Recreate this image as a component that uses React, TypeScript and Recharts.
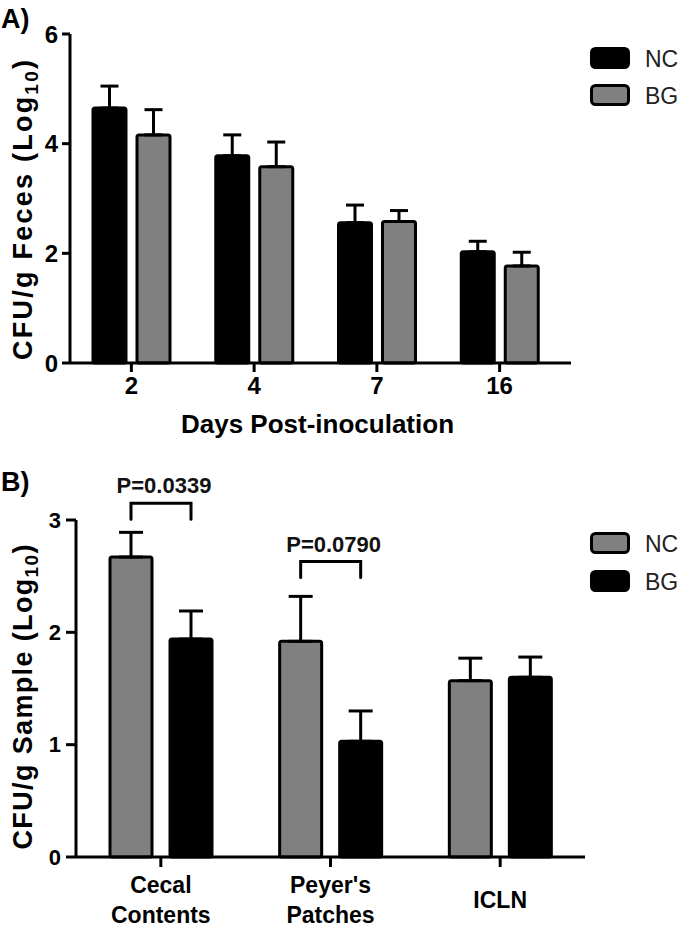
import React from 'react';
import { BarChart, Bar, XAxis, YAxis, ErrorBar, Legend, LabelList } from 'recharts';

const FONT = '"Liberation Sans", Arial, Helvetica, sans-serif';

// Panel A: fecal shedding by day
const dayLabels = ['2', '4', '7', '16'];
const fecesNC = [4.65, 3.78, 2.56, 2.03];
const fecesNCErr = [0.4, 0.38, 0.32, 0.19];
const fecesBG = [4.16, 3.58, 2.58, 1.77];
const fecesBGErr = [0.46, 0.45, 0.2, 0.25];
const fecesTicks = [0, 2, 4, 6];

// Panel B: tissues
const tissueLabels = ['Cecal\nContents', "Peyer's\nPatches", 'ICLN'];
const tissueNC = [2.67, 1.92, 1.57];
const tissueNCErr = [0.22, 0.4, 0.2];
const tissueBG = [1.94, 1.03, 1.6];
const tissueBGErr = [0.25, 0.27, 0.18];
const tissueTicks = [0, 1, 2, 3];
const pLabels = ['P=0.0339', 'P=0.0790', null];
const bracketLevels = [3.15, 2.63, null];

const seriesOrder = ['NC', 'BG'];

const GRAY = '#808080';
const BLACK = '#000';

const fecesData = dayLabels.map((day, i) => ({
  day,
  NC: fecesNC[i],
  ncErr: [0, fecesNCErr[i]],
  BG: fecesBG[i],
  bgErr: [0, fecesBGErr[i]],
}));

const tissueData = tissueLabels.map((name, i) => ({
  name,
  NC: tissueNC[i],
  ncErr: [0, tissueNCErr[i]],
  BG: tissueBG[i],
  bgErr: [0, tissueBGErr[i]],
}));

const axisStroke = { stroke: BLACK, strokeWidth: 3 };

function LegendBoxes({ payload, gap }: any) {
  const items = [...(payload || [])].sort(
    (a: any, b: any) => seriesOrder.indexOf(a.value) - seriesOrder.indexOf(b.value)
  );
  return (
    <svg width={90} height={gap * items.length + 4} style={{ display: 'block' }}>
      {items.map((item: any, i: number) => (
        <g key={item.value} transform={`translate(0, ${i * gap})`}>
          <rect x={1.5} y={1.5} width={37} height={19} rx={4} fill={item.color} stroke={BLACK} strokeWidth={3} />
          <text x={55} y={19.5} fontSize={23} fill="#222" fontFamily={FONT}>
            {item.value}
          </text>
        </g>
      ))}
    </svg>
  );
}

function yTitle(letter: string, title: string, letterY: number, centerY: number, length: number) {
  return () => (
    <g fontFamily={FONT} fontWeight={700} fill={BLACK}>
      <text x={1} y={letterY} fontSize={27}>{letter}</text>
      <text
        transform={`translate(32, ${centerY}) rotate(-90)`}
        textAnchor="middle"
        fontSize={27}
        textLength={length}
        lengthAdjust="spacing"
      >
        {title}
        <tspan fontSize={19} dy={6}>10</tspan>
        <tspan dy={-6}>)</tspan>
      </text>
    </g>
  );
}

function TissueTick({ x, y, payload }: any) {
  const lines = String(payload.value).split('\n');
  const center = y + 33;
  return (
    <g>
      {lines.map((line, i) => (
        <text
          key={line}
          x={x}
          y={center - ((lines.length - 1) * 30) / 2 + i * 30 + 8}
          textAnchor="middle"
          fontSize={23}
          fontWeight={700}
          fontFamily={FONT}
          fill={BLACK}
        >
          {line}
        </text>
      ))}
    </g>
  );
}

// bracket + p-value drawn above each NC/BG pair, positioned from the bar geometry
function makeBracket(barSize: number, barGap: number) {
  return (props: any) => {
    const vb = props.viewBox || props;
    const { x, y, width, height } = vb;
    const idx = props.index;
    const level = bracketLevels[idx];
    const text = pLabels[idx];
    if (level == null || !text || !props.value) return null;
    const ppu = height / Number(props.value);
    const zero = y + height;
    const by = zero - level * ppu;
    const left = x + width / 2;
    const right = left + barSize + barGap;
    return (
      <g>
        <path
          d={`M${left},${by + 16} L${left},${by} L${right},${by} L${right},${by + 16}`}
          fill="none"
          stroke={BLACK}
          strokeWidth={3}
          strokeLinecap="round"
        />
        <text
          x={(left + right) / 2 + 3}
          y={by - 10}
          textAnchor="middle"
          fontSize={22}
          fontWeight={700}
          fontFamily={FONT}
          fill="#111"
        >
          {text}
        </text>
      </g>
    );
  };
}

function FecesChart() {
  return (
    <BarChart
      width={685}
      height={445}
      data={fecesData}
      margin={{ top: 34, right: 114, bottom: 7, left: 0 }}
      barSize={33}
      barGap={11}
    >
      <XAxis
        dataKey="day"
        height={75}
        padding={{ left: 0, right: 10 }}
        axisLine={axisStroke}
        tickLine={axisStroke}
        tickSize={9}
        tickMargin={5}
        tick={{ fill: BLACK, fontSize: 24, fontWeight: 700, fontFamily: FONT }}
        label={(p: any) => {
          const vb = p.viewBox;
          return (
            <text
              x={vb.x + vb.width / 2 - 3}
              y={433}
              textAnchor="middle"
              fontSize={26}
              fontWeight={700}
              fontFamily={FONT}
              fill={BLACK}
            >
              Days Post-inoculation
            </text>
          );
        }}
      />
      <YAxis
        width={70}
        domain={[0, 6]}
        ticks={fecesTicks}
        interval={0}
        axisLine={axisStroke}
        tickLine={axisStroke}
        tickSize={8}
        tickMargin={4}
        tick={{ fill: BLACK, fontSize: 24, fontWeight: 700, fontFamily: FONT }}
        label={yTitle('A)', 'CFU/g Feces (Log', 28, 210, 300)}
      />
      <Legend
        layout="vertical"
        align="center"
        verticalAlign="middle"
        wrapperStyle={{ left: 590, top: 47, width: 90 }}
        content={(p: any) => <LegendBoxes payload={p.payload} gap={37} />}
      />
      <Bar dataKey="NC" name="NC" fill={BLACK} stroke={BLACK} strokeWidth={3} radius={2} isAnimationActive={false}>
        <ErrorBar dataKey="ncErr" direction="y" width={9} stroke={BLACK} strokeWidth={3} />
      </Bar>
      <Bar dataKey="BG" name="BG" fill={GRAY} stroke={BLACK} strokeWidth={3} radius={2} isAnimationActive={false}>
        <ErrorBar dataKey="bgErr" direction="y" width={9} stroke={BLACK} strokeWidth={3} />
      </Bar>
    </BarChart>
  );
}

function TissueChart() {
  const barSize = 42;
  const barGap = 18;
  return (
    <BarChart
      width={685}
      height={483}
      data={tissueData}
      margin={{ top: 75, right: 100, bottom: 6, left: 0 }}
      barSize={barSize}
      barGap={barGap}
    >
      <XAxis
        dataKey="name"
        height={65}
        axisLine={axisStroke}
        tickLine={axisStroke}
        tickSize={10}
        tickMargin={0}
        interval={0}
        tick={<TissueTick />}
      />
      <YAxis
        width={76}
        domain={[0, 3]}
        ticks={tissueTicks}
        interval={0}
        axisLine={axisStroke}
        tickLine={axisStroke}
        tickSize={10}
        tickMargin={5}
        tick={{ fill: BLACK, fontSize: 22, fontWeight: 700, fontFamily: FONT }}
        label={yTitle('B)', 'CFU/g Sample (Log', 46, 252, 305)}
      />
      <Legend
        layout="vertical"
        align="center"
        verticalAlign="middle"
        wrapperStyle={{ left: 590, top: 87, width: 90 }}
        content={(p: any) => <LegendBoxes payload={p.payload} gap={38} />}
      />
      <Bar dataKey="NC" name="NC" fill={GRAY} stroke={BLACK} strokeWidth={3} radius={2} isAnimationActive={false}>
        <ErrorBar dataKey="ncErr" direction="y" width={12} stroke={BLACK} strokeWidth={3} />
        <LabelList dataKey="NC" content={makeBracket(barSize, barGap)} />
      </Bar>
      <Bar dataKey="BG" name="BG" fill={BLACK} stroke={BLACK} strokeWidth={3} radius={2} isAnimationActive={false}>
        <ErrorBar dataKey="bgErr" direction="y" width={12} stroke={BLACK} strokeWidth={3} />
      </Bar>
    </BarChart>
  );
}

export default function App() {
  return (
    <div style={{ position: 'absolute', left: 0, top: 0, width: 685, height: 928, background: '#fff', fontFamily: FONT }}>
      <FecesChart />
      <TissueChart />
    </div>
  );
}
